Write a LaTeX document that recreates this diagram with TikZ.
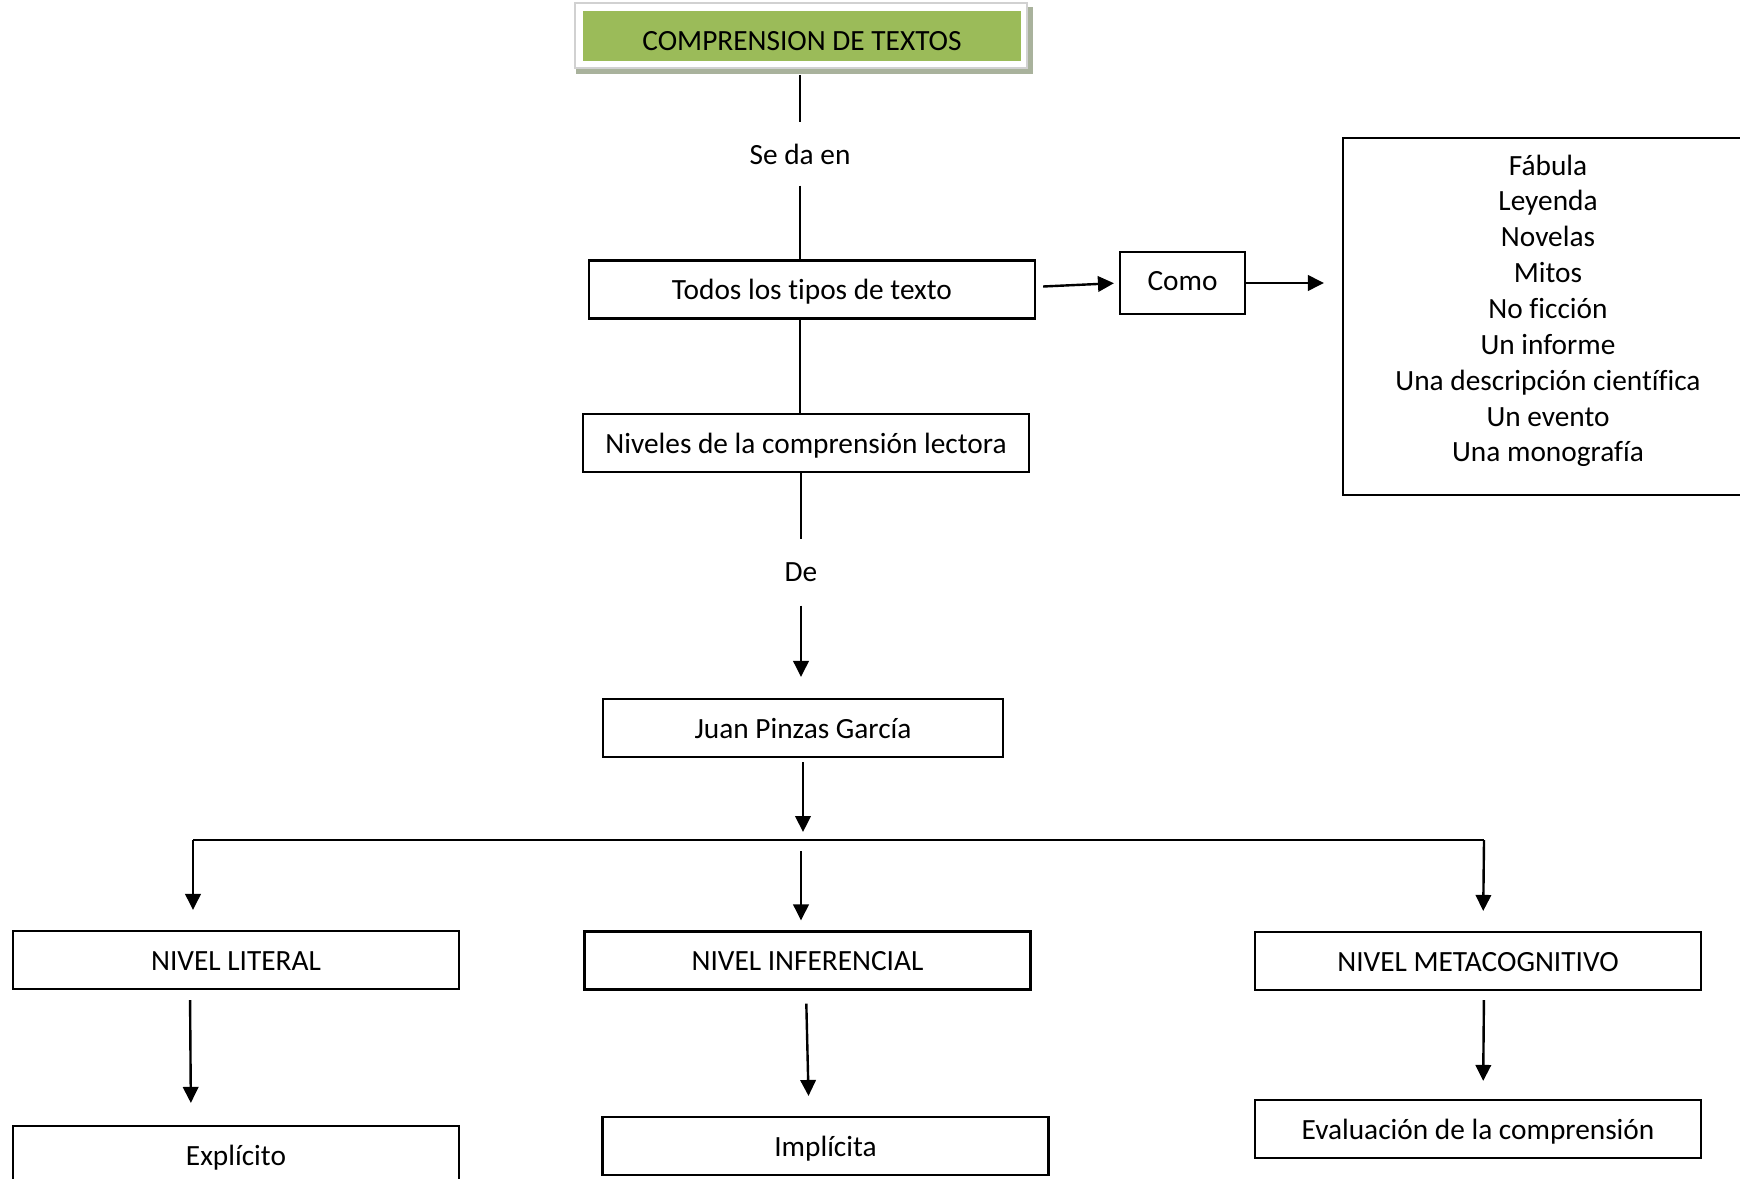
\documentclass[tikz,border=0pt]{standalone}
\usepackage{fontspec}
\setmainfont[Ligatures=NoCommon]{Carlito}
\usetikzlibrary{arrows.meta}
\newlength{\pxu}
\setlength{\pxu}{0.375pt}
\definecolor{titlegreen}{HTML}{9BBB59}
\definecolor{shadowgray}{HTML}{A9B29C}
\tikzset{
  txt/.style={font=\fontsize{11}{13.45}\selectfont},
  box/.style={txt, draw, line width=0.8pt, minimum width=446\pxu, minimum height=58\pxu,
    inner sep=0pt, text height=7.5pt, text depth=0pt},
  lbl/.style={txt, inner sep=0pt, minimum height=62\pxu},
  conn/.style={line width=0.9pt},
  arr/.style={conn, -{Triangle[length=6pt,width=5.8pt]}},
}
\begin{document}
\begin{tikzpicture}[x=\pxu, y=-\pxu]
  \useasboundingbox (0,0) rectangle (1740,1179);
  % title
  \node[fill=white, draw=black!18, line width=0.6pt, minimum width=452\pxu,
        minimum height=65\pxu] (top) at (801,35.5) {};
  \fill[shadowgray] ([shift={(2,5)}]top.north west) rectangle ([shift={(5,5)}]top.south east);
  \node[fill=white, draw=black!18, line width=0.6pt, minimum width=452\pxu,
        minimum height=65\pxu] at (801,35.5) {};
  \node[txt, fill=titlegreen, minimum width=438\pxu, minimum height=50\pxu, inner sep=0pt,
        text height=10.9pt, text depth=0pt] (title) at (802,36) {COMPRENSION DE TEXTOS};
  % main column
  \node[lbl] (seda) at (800,154) {Se da en};
  \node[box] (todos) at (812,289.5) {Todos los tipos de texto};
  \node[box] (niv) at (806,443) {Niveles de la comprensión lectora};
  \node[lbl, minimum height=65\pxu] (de) at (801,572.5) {De};
  \node[box, minimum width=400\pxu] (juan) at (803,728) {Juan Pinzas García};
  % right side
  \node[box, minimum width=125\pxu, minimum height=62\pxu, text height=5.8pt] (como) at (1182.5,283) {Como};
  \node[txt, draw, line width=0.8pt, inner sep=0pt, minimum width=410\pxu, minimum height=357\pxu]
    (lista) at (1548,316.5)
    {\raisebox{1.94pt}[\height][\depth]{\begin{tabular}{@{}c@{}}
     Fábula\\ Leyenda\\ Novelas\\ Mitos\\ No ficción\\ Un informe\\
     Una descripción científica\\ Un evento\\ Una monografía\end{tabular}}};
  % levels
  \node[box] (lit) at (236,960) {NIVEL LITERAL};
  \node[box] (inf) at (807.5,960.5) {NIVEL INFERENCIAL};
  \node[box] (meta) at (1478,961) {NIVEL METACOGNITIVO};
  \node[box] (expl) at (236,1155) {Explícito};
  \node[box] (impl) at (825.5,1146) {Implícita};
  \node[box] (eval) at (1478,1129) {Evaluación de la comprensión};
  \coordinate (split) at (803,840);
  \coordinate (splitL) at (193,840);
  \coordinate (splitR) at (1484,840);
  % connectors
  \draw[conn, shorten <=6\pxu] (top.south -| seda) -- (seda.north);
  \draw[conn] (seda.south) -- (todos.north -| seda);
  \draw[conn] (todos.south -| seda) -- (niv.north -| seda);
  \draw[conn] (niv.south -| de) -- (de.north);
  \draw[arr, shorten >=21\pxu] (de.south) -- (juan.north -| de);
  \draw[arr, shorten <=7\pxu, shorten >=5\pxu] ([yshift=1pt]todos.east) -- (como.west);
  \draw[arr, shorten >=18\pxu] (como.east) -- (como.east -| lista.west);
  \draw[arr, shorten <=4\pxu, shorten >=8\pxu] (juan.south) -- (split);
  \draw[conn] (splitL) -- (splitR);
  \draw[arr, shorten >=20\pxu] (splitL) -- (splitL |- lit.north);
  \draw[arr, shorten <=11\pxu, shorten >=10\pxu] ([xshift=-2\pxu]split) -- ([xshift=-2\pxu]split |- inf.north);
  \draw[arr, shorten >=20\pxu] (splitR) -- ([xshift=-1\pxu]splitR |- meta.north);
  \draw[arr, shorten <=10\pxu, shorten >=22\pxu] ([xshift=-46\pxu]lit.south) -- ([xshift=-45\pxu]expl.north);
  \draw[arr, shorten <=13\pxu, shorten >=20\pxu] ([xshift=-1.5\pxu]inf.south) -- ([xshift=-16.5\pxu]impl.north);
  \draw[arr, shorten <=9\pxu, shorten >=18\pxu] ([xshift=6\pxu]meta.south) -- ([xshift=5\pxu]eval.north);
\end{tikzpicture}
\end{document}
